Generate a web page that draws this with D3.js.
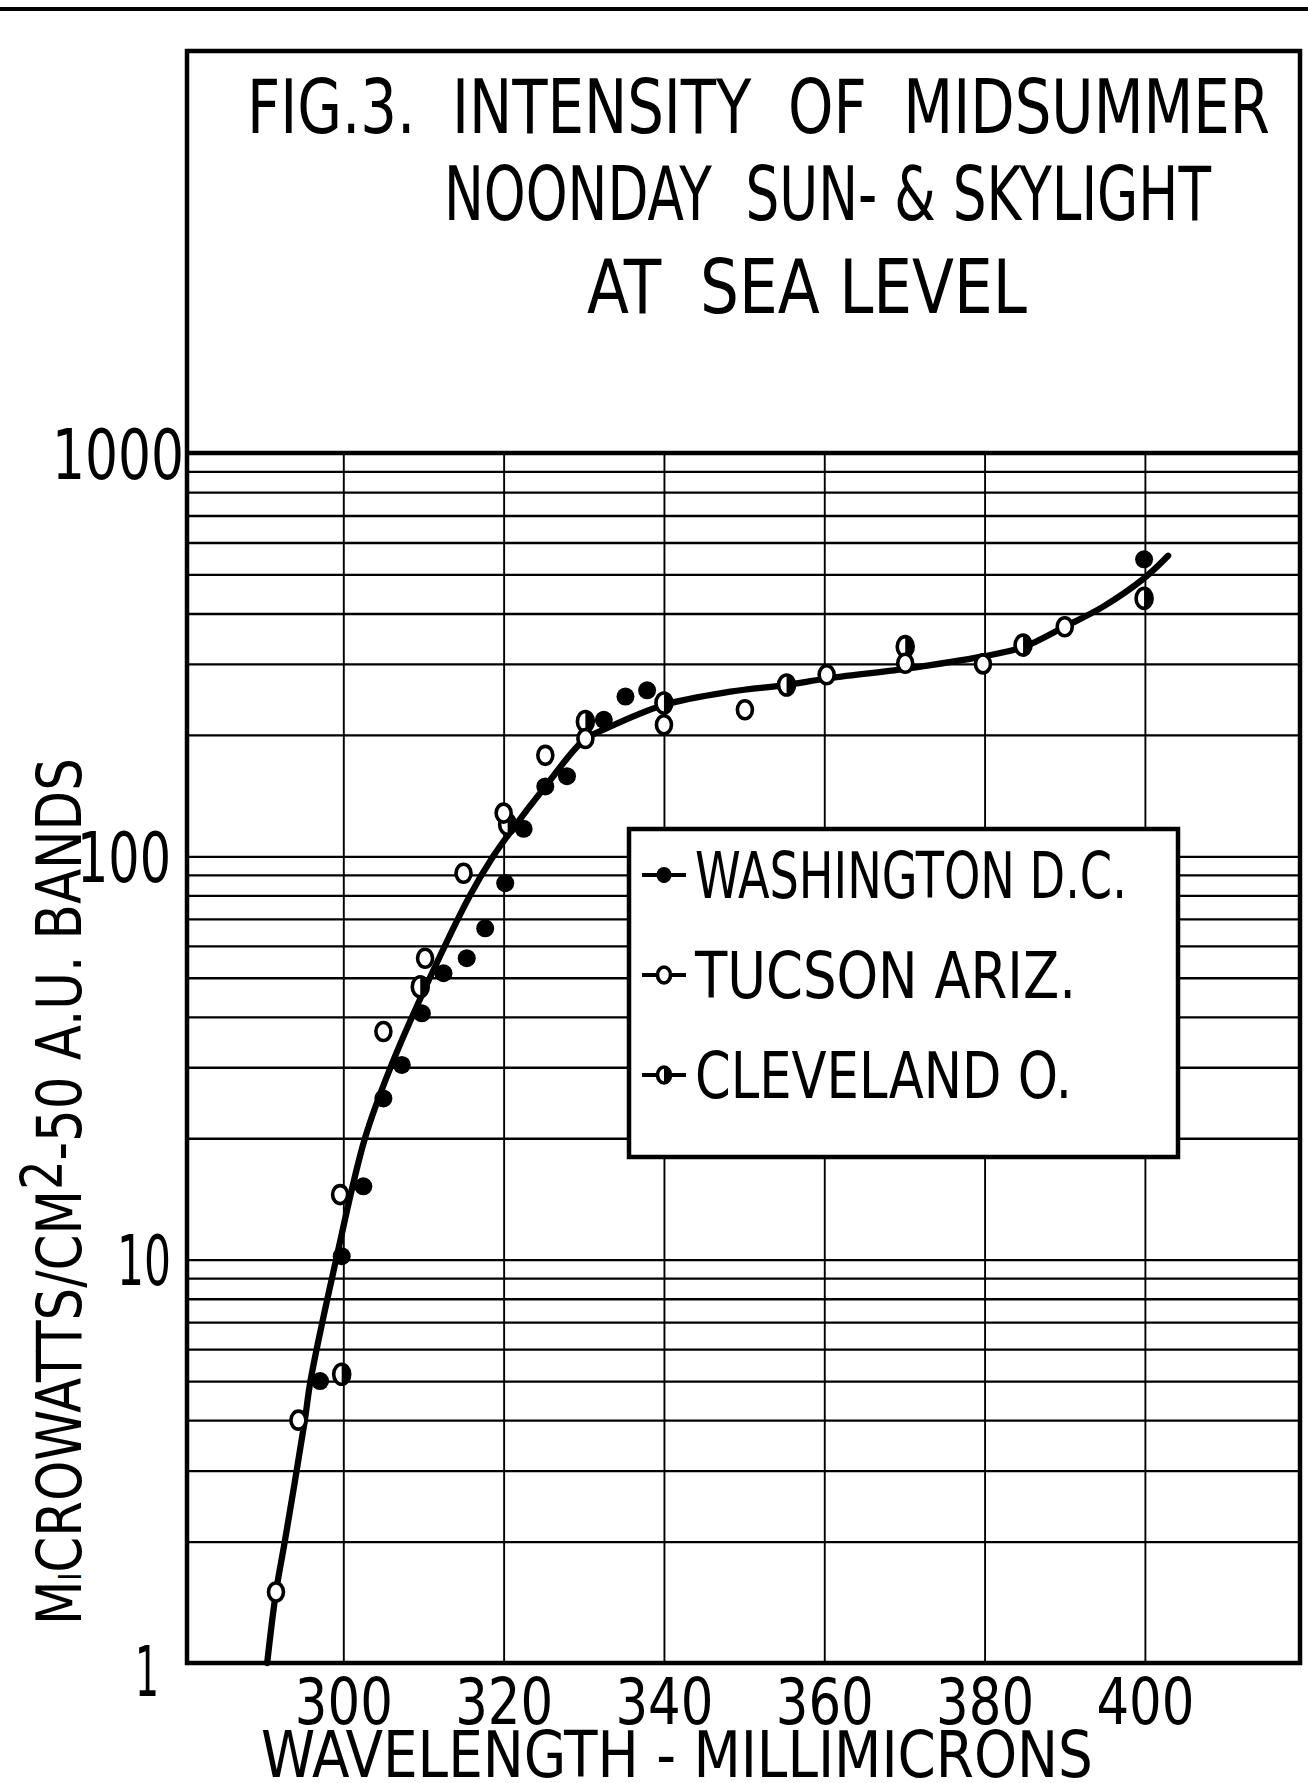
<!DOCTYPE html>
<html>
<head>
<meta charset="utf-8">
<script src="https://cdn.jsdelivr.net/npm/d3@7"></script>
<style>
  body { margin: 0; background: #fff; }
  svg text {
    font-family: 'DejaVu Sans Condensed', 'Liberation Sans Narrow', 'DejaVu Sans', sans-serif;
    fill: #000;
    white-space: pre;
  }
</style>
</head>
<body>
<div id="chart"></div>
<script>

// wavelength (millimicrons), intensity (microwatts/cm2)

const washington = [
  [297.1, 5.0], [299.8, 10.2], [302.5, 15.2], [305.0, 25.1], [307.3, 30.4],
  [309.8, 40.8], [312.5, 51.3], [315.4, 55.9], [317.7, 66.3], [320.2, 85.8],
  [322.5, 117], [325.2, 149], [327.9, 158], [332.5, 218], [335.2, 249],
  [337.9, 258], [399.9, 545]
];

const tucson = [
  [291.6, 1.5], [294.4, 4.0], [299.6, 14.5], [305.0, 36.8], [310.2, 55.9],
  [315.0, 90.8], [320.0, 128], [325.2, 178], [330.2, 196], [340.0, 212],
  [350.1, 231], [360.3, 282], [370.1, 301], [379.8, 300], [390.0, 371]
];

const cleveland = [
  [299.8, 5.2], [309.6, 47.5], [320.5, 120], [330.2, 216], [340.0, 240],
  [355.3, 266], [370.1, 331], [384.8, 334], [399.9, 436]
];

// the drawn smooth curve
const curvePts = [
  [290.5, 1.0], [291.6, 1.5], [292.7, 2.0], [295.2, 4.0], [295.9, 5.0],
  [299.1, 10], [302.7, 20], [305.9, 30], [310.8, 50], [315.8, 80],
  [318.7, 100], [321.0, 116], [325.2, 149], [330.0, 194], [332.9, 208],
  [339.9, 237], [348.3, 256], [355.3, 266], [360.3, 276], [370.3, 292],
  [379.8, 313], [384.8, 330], [390.0, 371], [394.8, 416], [399.9, 489],
  [402.9, 556]
];

const xTicks = [300, 320, 340, 360, 380, 400];
const yLabels = [1, 10, 100, 1000];

const titleLines = ["FIG.3.  INTENSITY  OF  MIDSUMMER", "NOONDAY  SUN- & SKYLIGHT", "AT  SEA LEVEL"];
const legendLabels = ["WASHINGTON D.C.", "TUCSON ARIZ.", "CLEVELAND O."];
const legendTypes = ["filled", "open", "half"];
const xTitle = "WAVELENGTH - MILLIMICRONS";

// layout
const width = 1308, height = 1783;
const frame = {left: 187, right: 1300, top: 51, plotTop: 453, bottom: 1663};

const svg = d3.select("#chart")
  .append("svg")
  .attr("width", width)
  .attr("height", height)
  .attr("viewBox", [0, 0, width, height]);

svg.append("rect").attr("width", width).attr("height", height).attr("fill", "#fff");

const xScale = d3.scaleLinear()
  .domain([280.5, 419.35])
  .range([frame.left, frame.right]);

const yScale = d3.scaleLog()
  .domain([1, 1000])
  .range([frame.bottom, frame.plotTop]);

// squeeze a text horizontally so it spans w pixels (lettering is very narrow)
function squeeze(el, w, pre) {
  const n = el.getComputedTextLength();
  const s = w / n;
  d3.select(el).attr("transform", (pre || "") + ` scale(${s},1)`);
  return s;
}

// rule across the page top
svg.append("line")
  .attr("x1", 0).attr("x2", width)
  .attr("y1", 9).attr("y2", 9)
  .attr("stroke", "#000").attr("stroke-width", 4);

// horizontal log grid (1..9 in every decade)
svg.append("g")
  .attr("transform", `translate(${frame.left},0)`)
  .call(d3.axisLeft(yScale)
    .tickValues(yScale.ticks())
    .tickSize(-(frame.right - frame.left))
    .tickFormat(""))
  .call(g => g.select(".domain").remove())
  .call(g => g.selectAll("line").attr("stroke", "#000").attr("stroke-width", 2.3));

// vertical grid
svg.append("g")
  .attr("transform", `translate(0,${frame.bottom})`)
  .call(d3.axisBottom(xScale)
    .tickValues(xTicks)
    .tickSize(-(frame.bottom - frame.plotTop))
    .tickFormat(""))
  .call(g => g.select(".domain").remove())
  .call(g => g.selectAll("line").attr("stroke", "#000").attr("stroke-width", 1.9));

// outer frame + title box
svg.append("rect")
  .attr("x", frame.left).attr("y", frame.top)
  .attr("width", frame.right - frame.left)
  .attr("height", frame.bottom - frame.top)
  .attr("fill", "none").attr("stroke", "#000").attr("stroke-width", 4.5);

svg.append("line")
  .attr("x1", frame.left).attr("x2", frame.right)
  .attr("y1", yScale(1000)).attr("y2", yScale(1000))
  .attr("stroke", "#000").attr("stroke-width", 4.5);

// title
const titleX = [247, 444, 587], titleY = [133, 220, 313], titleW = [1023, 767, 440];
svg.selectAll(".title")
  .data(titleLines)
  .enter()
  .append("text")
    .attr("class", "title")
    .attr("font-size", 75)
    .text(d => d)
    .each(function(d, i) { squeeze(this, titleW[i], `translate(${titleX[i]},${titleY[i]})`); });

// x tick labels
svg.append("g")
  .attr("transform", `translate(0,${frame.bottom})`)
  .call(d3.axisBottom(xScale).tickValues(xTicks).tickSize(0).tickPadding(16))
  .call(g => g.select(".domain").remove())
  .call(g => g.selectAll("text")
    .attr("font-size", 64)
    .attr("font-family", null)
    .each(function() { squeeze(this, 98); }));

// y tick labels (right edge offset from the frame, width)
const yLabRight = {1: -28, 10: -16, 100: -16, 1000: -3};
const yLabW = {1: 24, 10: 54, 100: 94, 1000: 132};
svg.append("g")
  .attr("transform", `translate(${frame.left},0)`)
  .call(d3.axisLeft(yScale).tickValues(yLabels).tickSize(0).tickPadding(3).tickFormat(d3.format("d")))
  .call(g => g.select(".domain").remove())
  .call(g => g.selectAll("text")
    .attr("font-size", 70)
    .attr("font-family", null)
    .attr("dy", d => d === 1 ? "0.46em" : "0.36em")
    .each(function(d) {
      d3.select(this).attr("x", 0);
      squeeze(this, yLabW[d], `translate(${yLabRight[d]},0)`);
    }));

// axis titles
const xt = svg.append("text")
  .attr("font-size", 64)
  .text(xTitle);
squeeze(xt.node(), 832, "translate(261,1777)");

const yt = svg.append("text")
  .attr("font-size", 62);
yt.append("tspan").text("M");
yt.append("tspan").attr("font-size", 32).text("I");
yt.append("tspan").text("CROWATTS/CM");
yt.append("tspan").attr("font-size", 56).attr("dy", -19).text("2");
yt.append("tspan").attr("dy", 19).text("-50 A.U. BANDS");
squeeze(yt.node(), 867, "translate(81,1625) rotate(-90)");

// fitted curve
const line = d3.line()
  .x(d => xScale(d[0]))
  .y(d => yScale(d[1]))
  .curve(d3.curveCatmullRom.alpha(0.5));

svg.append("path")
  .datum(curvePts)
  .attr("d", line)
  .attr("fill", "none")
  .attr("stroke", "#000")
  .attr("stroke-width", 6.3)
  .attr("stroke-linecap", "round");

// marker drawing
function marker(g, type, cx, cy, rx, ry) {
  if (type === "filled") {
    g.append("ellipse").attr("cx", cx).attr("cy", cy).attr("rx", rx + 1).attr("ry", ry)
      .attr("fill", "#000");
  } else if (type === "open") {
    g.append("ellipse").attr("cx", cx).attr("cy", cy).attr("rx", rx).attr("ry", ry)
      .attr("fill", "#fff").attr("stroke", "#000").attr("stroke-width", 3.6);
  } else {
    g.append("ellipse").attr("cx", cx).attr("cy", cy).attr("rx", rx).attr("ry", ry)
      .attr("fill", "#fff").attr("stroke", "#000").attr("stroke-width", 3.6);
    g.append("path")
      .attr("d", `M${cx},${cy - ry} A${rx},${ry} 0 0 1 ${cx},${cy + ry} Z`)
      .attr("fill", "#000");
  }
}

const pts = svg.append("g");
washington.forEach(d => marker(pts, "filled", xScale(d[0]), yScale(d[1]), 8, 9));
cleveland.forEach(d => marker(pts, "half", xScale(d[0]), yScale(d[1]), 8, 10));
tucson.forEach(d => marker(pts, "open", xScale(d[0]), yScale(d[1]), 7.5, 9));

// legend
const legend = svg.append("g");
legend.append("rect")
  .attr("x", 629).attr("y", 829)
  .attr("width", 549).attr("height", 328)
  .attr("fill", "#fff").attr("stroke", "#000").attr("stroke-width", 4.5);

const legW = [432, 381, 377];
legendLabels.forEach((lab, i) => {
  const base = 898 + i * 100;
  const cy = base - 23;
  legend.append("line")
    .attr("x1", 642).attr("x2", 686)
    .attr("y1", cy).attr("y2", cy)
    .attr("stroke", "#000").attr("stroke-width", 4);
  marker(legend, legendTypes[i], 664, cy, 6.5, 8);
  const t = legend.append("text")
    .attr("font-size", 64)
    .text(lab);
  squeeze(t.node(), legW[i], `translate(695,${base})`);
});

</script>
</body>
</html>
